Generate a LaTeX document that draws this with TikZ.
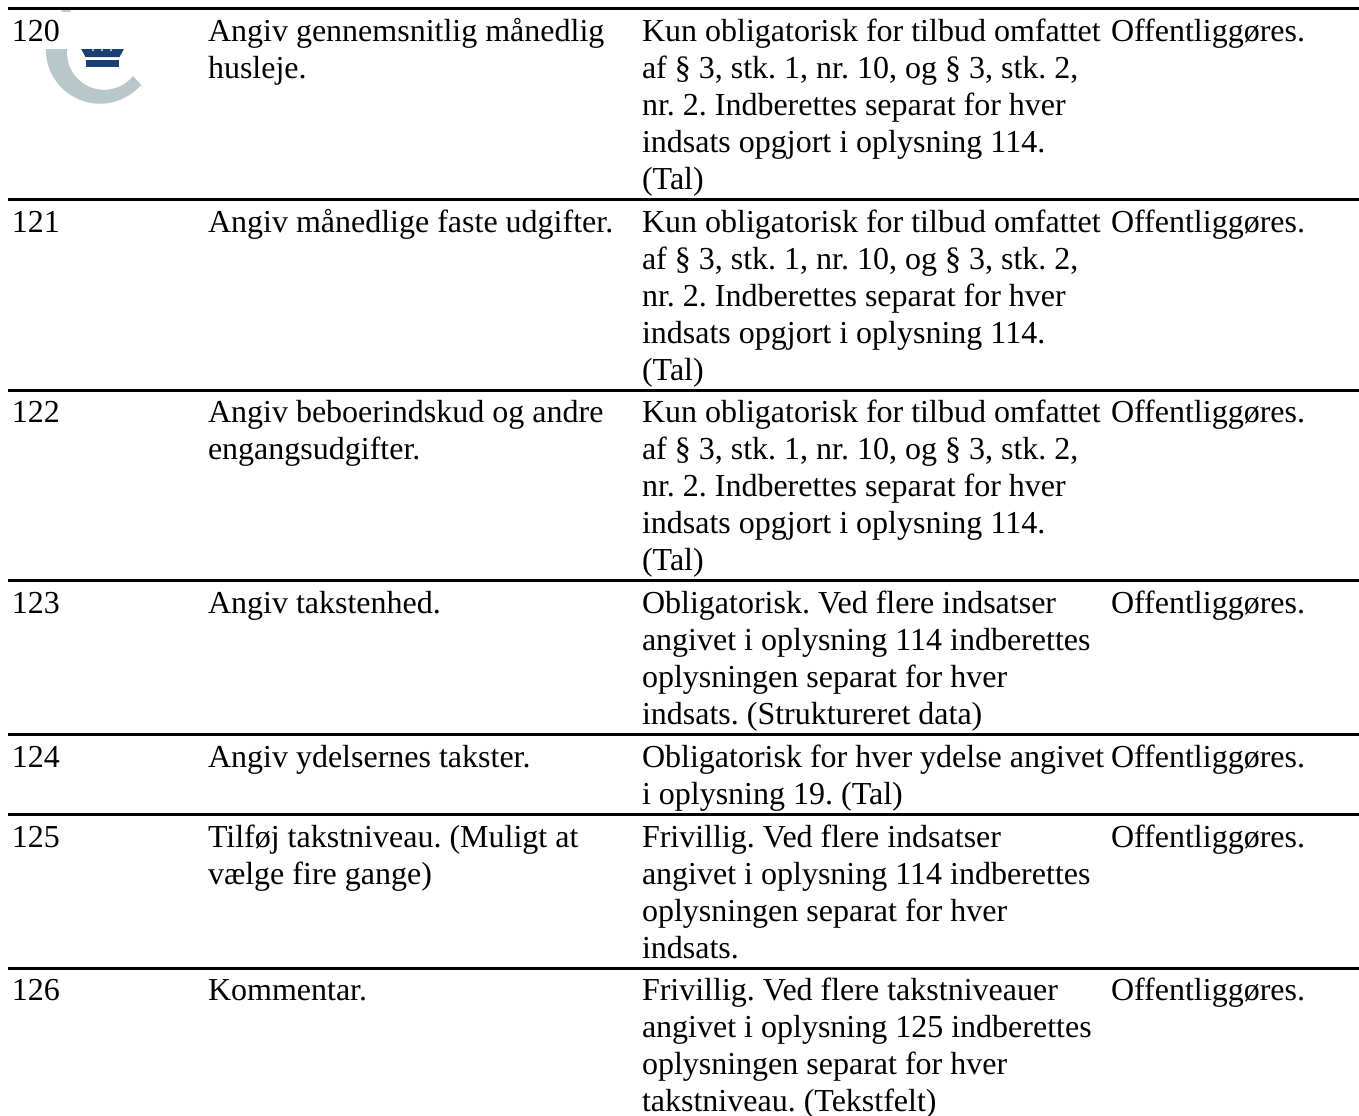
\documentclass[tikz,border=0pt]{standalone}
\usepackage{fontspec}
\setmainfont[Ligatures=NoCommon]{Liberation Serif}
\definecolor{logogray}{HTML}{B7C7CA}
\definecolor{logoblue}{HTML}{1A3F73}
\newcommand{\celltext}[1]{\begin{tabular}[t]{@{}l@{}}#1\end{tabular}}
\tikzset{x=0.75pt,y=-0.75pt,
 cell/.style={anchor=base west,inner sep=0pt,outer sep=0pt,font=\fontsize{24}{27.75}\selectfont\frenchspacing},
 rowrule/.style={line width=2.25pt,black}}
\begin{document}
\begin{tikzpicture}
\useasboundingbox (0,0) rectangle (1359,1115);
\fill[white] (0,0) rectangle (1359,1115);
% logo
\fill[logogray] (100,49.5) ++(232:54.2) arc[start angle=232,end angle=41,radius=54.2] -- (143,87) -- (133,76) arc[start angle=39,end angle=232,radius=37.2] -- cycle;
\fill[logoblue] (85.5,60) rectangle (119.3,66.7);
\fill[logoblue] (81,48.7) -- (124,48.7) -- (119.5,57) -- (85.5,57) -- cycle;
\foreach \dotx in {93,102,111} \fill[white] (\dotx,50) circle[radius=1];
\fill[white] (8,11.5) rectangle (200,48.7);
% rules
\coordinate (r0l) at (8,8.5);   \coordinate (r0r) at (1359,8.5);
\coordinate (r1l) at (8,199.3); \coordinate (r1r) at (1359,199.3);
\coordinate (r2l) at (8,390.3); \coordinate (r2r) at (1359,390.3);
\coordinate (r3l) at (8,580.3); \coordinate (r3r) at (1359,580.3);
\coordinate (r4l) at (8,734.3); \coordinate (r4r) at (1359,734.3);
\coordinate (r5l) at (8,814.3); \coordinate (r5r) at (1359,814.3);
\coordinate (r6l) at (8,968.5); \coordinate (r6r) at (1359,968.5);
\foreach \i in {0,...,6} \draw[rowrule] (r\i l) -- (r\i r);
% row 120
\node[cell] (a0) at (12,41) {120};
\node[cell] (b0) at (208,41) {\celltext{Angiv gennemsnitlig månedlig\\husleje.}};
\node[cell] (c0) at (642,41) {\celltext{Kun obligatorisk for tilbud omfattet\\af § 3, stk. 1, nr. 10, og § 3, stk. 2,\\nr. 2. Indberettes separat for hver\\indsats opgjort i oplysning 114.\\(Tal)}};
\node[cell] (d0) at (1111,41) {Offentliggøres.};
% row 121
\node[cell] (a1) at (12,232) {121};
\node[cell] (b1) at (208,232) {Angiv månedlige faste udgifter.};
\node[cell] (c1) at (642,232) {\celltext{Kun obligatorisk for tilbud omfattet\\af § 3, stk. 1, nr. 10, og § 3, stk. 2,\\nr. 2. Indberettes separat for hver\\indsats opgjort i oplysning 114.\\(Tal)}};
\node[cell] (d1) at (1111,232) {Offentliggøres.};
% row 122
\node[cell] (a2) at (12,422) {122};
\node[cell] (b2) at (208,422) {\celltext{Angiv beboerindskud og andre\\engangsudgifter.}};
\node[cell] (c2) at (642,422) {\celltext{Kun obligatorisk for tilbud omfattet\\af § 3, stk. 1, nr. 10, og § 3, stk. 2,\\nr. 2. Indberettes separat for hver\\indsats opgjort i oplysning 114.\\(Tal)}};
\node[cell] (d2) at (1111,422) {Offentliggøres.};
% row 123
\node[cell] (a3) at (12,613) {123};
\node[cell] (b3) at (208,613) {Angiv takstenhed.};
\node[cell] (c3) at (642,613) {\celltext{Obligatorisk. Ved flere indsatser\\angivet i oplysning 114 indberettes\\oplysningen separat for hver\\indsats. (Struktureret data)}};
\node[cell] (d3) at (1111,613) {Offentliggøres.};
% row 124
\node[cell] (a4) at (12,767) {124};
\node[cell] (b4) at (208,767) {Angiv ydelsernes takster.};
\node[cell] (c4) at (642,767) {\celltext{Obligatorisk for hver ydelse angivet\\i oplysning 19. (Tal)}};
\node[cell] (d4) at (1111,767) {Offentliggøres.};
% row 125
\node[cell] (a5) at (12,847) {125};
\node[cell] (b5) at (208,847) {\celltext{Tilføj takstniveau. (Muligt at\\vælge fire gange)}};
\node[cell] (c5) at (642,847) {\celltext{Frivillig. Ved flere indsatser\\angivet i oplysning 114 indberettes\\oplysningen separat for hver\\indsats.}};
\node[cell] (d5) at (1111,847) {Offentliggøres.};
% row 126
\node[cell] (a6) at (12,1000) {126};
\node[cell] (b6) at (208,1000) {Kommentar.};
\node[cell] (c6) at (642,1000) {\celltext{Frivillig. Ved flere takstniveauer\\angivet i oplysning 125 indberettes\\oplysningen separat for hver\\takstniveau. (Tekstfelt)}};
\node[cell] (d6) at (1111,1000) {Offentliggøres.};
\end{tikzpicture}
\end{document}
